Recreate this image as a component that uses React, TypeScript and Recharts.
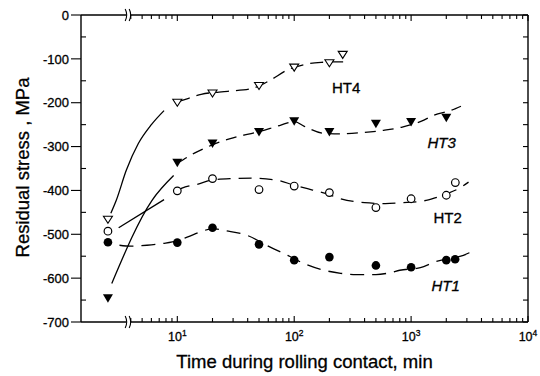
import React from 'react';
import { ComposedChart, Line, XAxis, YAxis, ReferenceDot, Label } from 'recharts';

const FONT = '"Liberation Sans", Arial, Helvetica, sans-serif';
const INK = '#000';

// Measured points: time during rolling contact (min) and residual stress (MPa)
const HT1_TIME = [2.55, 10, 20, 50, 100, 200, 500, 1000, 2000, 2380];
const HT1_STRESS = [-518, -519, -485, -523, -559, -552, -571, -575, -559, -557];
const HT2_TIME = [2.55, 10, 20, 50, 100, 200, 500, 1000, 2000, 2390];
const HT2_STRESS = [-493, -401, -373, -398, -390, -405, -439, -419, -411, -382];
const HT3_TIME = [2.55, 10, 20, 50, 100, 200, 500, 1000, 2000];
const HT3_STRESS = [-646, -337, -293, -267, -242, -267, -248, -244, -234];
const HT4_TIME = [2.55, 10, 20, 50, 100, 200, 260];
const HT4_STRESS = [-467, -200, -179, -162, -120, -110, -91];

// Hand-drawn fit curves
const HT1_FIT_TIME = [3.2, 4, 5.5, 7.5, 10, 12.3, 16, 20, 26, 40, 63, 88, 122, 180, 250, 340, 500, 650, 800, 1200, 1600, 2000, 2800, 3150];
const HT1_FIT_STRESS = [-525, -527, -525, -521, -515, -506, -494, -487, -492, -503, -530, -548, -567, -582, -589, -592, -592, -588, -582, -576, -563, -556, -548, -542];

const HT2_RISE_TIME = [3.15, 7.7];
const HT2_RISE_STRESS = [-485, -421];
const HT2_FIT_TIME = [10, 11.7, 14.8, 20, 28.6, 45, 72, 100, 130, 200, 250, 400, 600, 830, 1270, 1600, 2000, 2540, 3100];
const HT2_FIT_STRESS = [-400, -392, -386, -376, -373, -372, -377, -388, -396, -410, -419, -428, -430, -428, -424, -417, -408, -396, -381];

const HT3_RISE_TIME = [2.75, 6.06, 9.3];
const HT3_RISE_STRESS = [-612, -423, -366];
const HT3_FIT_TIME = [10, 14, 20, 30, 50, 75, 100, 122, 181, 244, 387, 576, 826, 1227, 1550, 2222, 2670];
const HT3_FIT_STRESS = [-338, -315, -296, -280, -266, -252, -243, -254, -270, -271, -268, -263, -256, -242, -229, -217, -208];

const HT4_RISE_TIME = [2.7, 3.0, 3.66, 4.64, 6.0, 7.7];
const HT4_RISE_STRESS = [-452, -423, -354, -293, -250, -218];
const HT4_FIT_TIME = [10, 12.5, 16, 27, 43, 63, 85, 127, 170, 210, 270];
const HT4_FIT_STRESS = [-198, -190, -181, -174, -168, -148, -127, -112, -108, -107, -107];

// Curve name labels (data coordinates)
const LABEL_NAMES = ['HT4', 'HT3', 'HT2', 'HT1'];
const LABEL_TIME = [278, 1824, 2056, 1977];
const LABEL_STRESS = [-166, -290, -461, -616];
const LABEL_ITALIC = [false, true, false, true];

// Axis ticks
const X_MAJOR = [10, 100, 1000, 10000];
const X_MINOR = [4, 5, 6, 7, 8, 9, 20, 30, 40, 50, 60, 70, 80, 90, 200, 300, 400, 500, 600, 700, 800, 900, 2000, 3000, 4000, 5000, 6000, 7000, 8000, 9000];
const X_TICKS = [...X_MINOR, ...X_MAJOR].sort((a, b) => a - b);
const X_EXP: Record<number, string> = { 10: '1', 100: '2', 1000: '3', 10000: '4' };
const Y_TICKS = [-700, -650, -600, -550, -500, -450, -400, -350, -300, -250, -200, -150, -100, -50, 0];
const X_DOMAIN = [1.5, 10000];
const Y_DOMAIN = [-700, 0];
const BREAK_TIME = 3.8;

const zip = (t: number[], v: number[]) => t.map((x, i) => ({ t: x, v: v[i] }));

const ht1 = zip(HT1_TIME, HT1_STRESS);
const ht2 = zip(HT2_TIME, HT2_STRESS);
const ht3 = zip(HT3_TIME, HT3_STRESS);
const ht4 = zip(HT4_TIME, HT4_STRESS);

const TEXT_STROKE = { stroke: INK, strokeWidth: 0.3 };

const marker = (kind: string) => (p: any) => {
  const { cx, cy, index } = p;
  const key = `${kind}-${index}`;
  if (cx == null || cy == null) return <g key={key} />;
  if (kind === 'filledCircle') return <circle key={key} cx={cx} cy={cy} r={4.3} fill={INK} />;
  if (kind === 'openCircle') return <circle key={key} cx={cx} cy={cy} r={3.8} fill="#fff" stroke={INK} strokeWidth={1.2} />;
  if (kind === 'filledTri')
    return <polygon key={key} points={`${cx - 5},${cy - 4} ${cx + 5},${cy - 4} ${cx},${cy + 4.5}`} fill={INK} />;
  return (
    <polygon key={key} points={`${cx - 4.5},${cy - 3.5} ${cx + 4.5},${cy - 3.5} ${cx},${cy + 3.5}`} fill="#fff" stroke={INK} strokeWidth={1.1} />
  );
};

const BottomTick = (p: any) => {
  const { x, y, payload } = p;
  const v = payload.value;
  const major = X_MAJOR.includes(v);
  return (
    <g>
      <line x1={x} x2={x} y1={y} y2={y - (major ? 6 : 4)} stroke={INK} strokeWidth={1.1} />
      {major && (
        <text x={x} y={y + 19} textAnchor="middle" fontSize={12.5} fontFamily={FONT} fill={INK} {...TEXT_STROKE}>
          10<tspan dy={-5} fontSize={8.5}>{X_EXP[v]}</tspan>
        </text>
      )}
    </g>
  );
};

const TopTick = (p: any) => {
  const { x, y, payload } = p;
  const major = X_MAJOR.includes(payload.value);
  return <line x1={x} x2={x} y1={y} y2={y + (major ? 6 : 4)} stroke={INK} strokeWidth={1.1} />;
};

const LeftTick = (p: any) => {
  const { x, y, payload } = p;
  const v = payload.value;
  if (v % 100 === 0) {
    return (
      <g>
        <line x1={x - 10} x2={x} y1={y} y2={y} stroke={INK} strokeWidth={1.1} />
        <text x={x - 12} y={y} dy="0.36em" textAnchor="end" fontSize={13} fontFamily={FONT} fill={INK} {...TEXT_STROKE}>
          {v}
        </text>
      </g>
    );
  }
  return <line x1={x} x2={x + 5} y1={y} y2={y} stroke={INK} strokeWidth={1.1} />;
};

const RightTick = (p: any) => {
  const { x, y } = p;
  return <line x1={x} x2={x - 5} y1={y} y2={y} stroke={INK} strokeWidth={1.1} />;
};

const BreakMark = (p: any) => {
  const { cx, cy } = p;
  if (cx == null || cy == null) return <g />;
  return (
    <g>
      <rect x={cx - 2} y={cy - 2} width={4} height={4} fill="#fff" />
      <path d={`M${cx - 3},${cy - 6} Q${cx},${cy} ${cx - 3},${cy + 6}`} fill="none" stroke={INK} strokeWidth={1.1} />
      <path d={`M${cx + 1},${cy - 6} Q${cx + 4},${cy} ${cx + 1},${cy + 6}`} fill="none" stroke={INK} strokeWidth={1.1} />
    </g>
  );
};

const nameLabel = (name: string, italic: boolean) => (p: any) => {
  const { cx, cy } = p;
  if (cx == null || cy == null) return <g />;
  return (
    <text x={cx} y={cy} dy="0.36em" textAnchor="middle" fontSize={15} fontStyle={italic ? 'italic' : 'normal'} fontFamily={FONT} fill={INK} {...TEXT_STROKE}>
      {name}
    </text>
  );
};

const YTitle = (p: any) => {
  const vb = p.viewBox || { x: 0, y: 15, width: 81, height: 307 };
  const cx = vb.x + 22;
  const cy = vb.y + vb.height / 2 - 1;
  return (
    <text x={cx} y={cy} transform={`rotate(-90 ${cx} ${cy})`} textAnchor="middle" dominantBaseline="central" fontSize={18.5} fontFamily={FONT} fill={INK} {...TEXT_STROKE}>
      Residual stress , MPa
    </text>
  );
};

const XTitle = (p: any) => {
  const vb = p.viewBox || { x: 81, y: 322, width: 446, height: 54 };
  return (
    <text x={vb.x + vb.width / 2} y={vb.y + 46} textAnchor="middle" fontSize={18.5} fontFamily={FONT} fill={INK} {...TEXT_STROKE}>
      Time during rolling contact, min
    </text>
  );
};

const fitLine = (key: string, t: number[], v: number[], dash?: string) => (
  <Line
    key={key}
    data={zip(t, v)}
    dataKey="v"
    type="monotone"
    stroke={INK}
    strokeWidth={1.3}
    strokeDasharray={dash}
    dot={false}
    activeDot={false}
    isAnimationActive={false}
    legendType="none"
  />
);

const markerLine = (key: string, data: { t: number; v: number }[], kind: string) => (
  <Line
    key={key}
    data={data}
    dataKey="v"
    stroke="none"
    dot={marker(kind)}
    activeDot={false}
    isAnimationActive={false}
    legendType="none"
  />
);

const AXIS_LINE = { stroke: INK, strokeWidth: 1.4 };

export default function App() {
  return (
    <div style={{ position: 'absolute', left: 0, top: 0, width: 540, height: 376, background: '#fff' }}>
      <ComposedChart width={540} height={376} margin={{ top: 14, right: 0, bottom: 0, left: 0 }}>
        <XAxis
          xAxisId={0}
          dataKey="t"
          type="number"
          scale="log"
          domain={X_DOMAIN}
          allowDataOverflow
          ticks={X_TICKS}
          interval={0}
          tick={<BottomTick />}
          tickLine={false}
          tickSize={0}
          tickMargin={0}
          height={54}
          axisLine={AXIS_LINE}
        >
          <Label content={<XTitle />} />
        </XAxis>
        <XAxis
          xAxisId="top"
          orientation="top"
          dataKey="t"
          type="number"
          scale="log"
          domain={X_DOMAIN}
          allowDataOverflow
          ticks={X_TICKS}
          interval={0}
          tick={<TopTick />}
          tickLine={false}
          tickSize={0}
          tickMargin={0}
          height={1}
          axisLine={AXIS_LINE}
        />
        <YAxis
          yAxisId={0}
          type="number"
          domain={Y_DOMAIN}
          allowDataOverflow
          ticks={Y_TICKS}
          interval={0}
          tick={<LeftTick />}
          tickLine={false}
          tickSize={0}
          tickMargin={0}
          width={81}
          axisLine={AXIS_LINE}
        >
          <Label content={<YTitle />} />
        </YAxis>
        <YAxis
          yAxisId="right"
          orientation="right"
          type="number"
          domain={Y_DOMAIN}
          allowDataOverflow
          ticks={Y_TICKS}
          interval={0}
          tick={<RightTick />}
          tickLine={false}
          tickSize={0}
          tickMargin={0}
          width={12}
          axisLine={AXIS_LINE}
        />

        {fitLine('ht4-rise', HT4_RISE_TIME, HT4_RISE_STRESS)}
        {fitLine('ht4-fit', HT4_FIT_TIME, HT4_FIT_STRESS, '13 7')}
        {fitLine('ht3-rise', HT3_RISE_TIME, HT3_RISE_STRESS)}
        {fitLine('ht3-fit', HT3_FIT_TIME, HT3_FIT_STRESS, '11 7')}
        {fitLine('ht2-rise', HT2_RISE_TIME, HT2_RISE_STRESS)}
        {fitLine('ht2-fit', HT2_FIT_TIME, HT2_FIT_STRESS, '13 8')}
        {fitLine('ht1-fit', HT1_FIT_TIME, HT1_FIT_STRESS, '14 8')}

        {markerLine('ht1', ht1, 'filledCircle')}
        {markerLine('ht2', ht2, 'openCircle')}
        {markerLine('ht3', ht3, 'filledTri')}
        {markerLine('ht4', ht4, 'openTri')}

        {LABEL_NAMES.map((n, i) => (
          <ReferenceDot key={n} x={LABEL_TIME[i]} y={LABEL_STRESS[i]} shape={nameLabel(n, LABEL_ITALIC[i])} />
        ))}
        <ReferenceDot x={BREAK_TIME} y={Y_DOMAIN[1]} shape={BreakMark} />
        <ReferenceDot x={BREAK_TIME} y={Y_DOMAIN[0]} shape={BreakMark} />
      </ComposedChart>
    </div>
  );
}
